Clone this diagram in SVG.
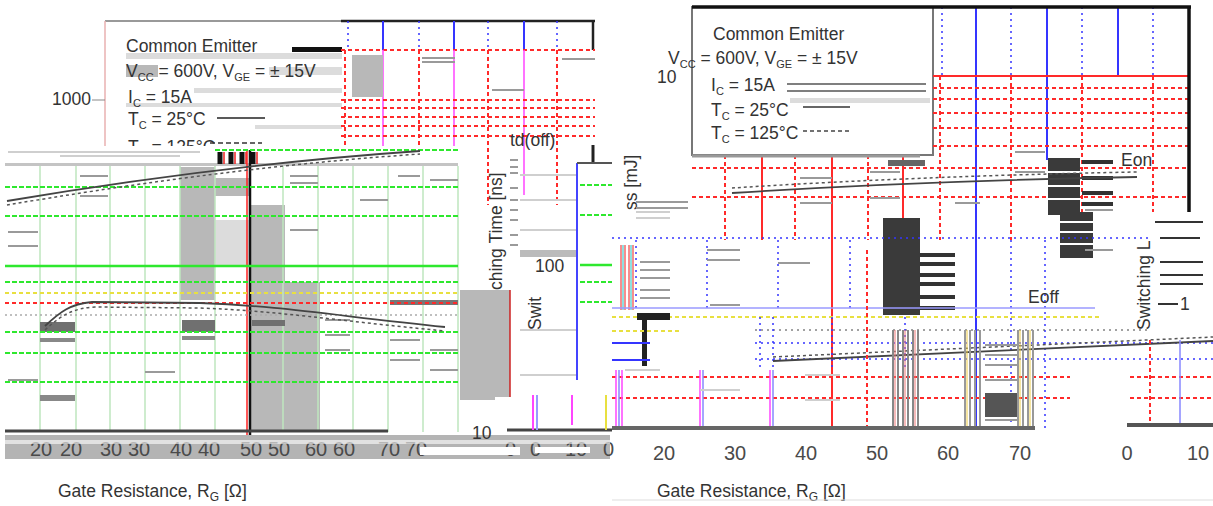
<svg xmlns="http://www.w3.org/2000/svg" width="1213" height="506" viewBox="0 0 1213 506">
<defs>
<style>
.t{font-family:"Liberation Sans",Arial,sans-serif;fill:#333;font-size:17.5px}
.ax{font-family:"Liberation Sans",Arial,sans-serif;fill:#4a4a4a;font-size:20px}
.rd{stroke:#ff2a2a;stroke-width:2;stroke-dasharray:4 3;fill:none}
.rs{stroke:#ff2a2a;stroke-width:2;fill:none}
.gd{stroke:#2ee82e;stroke-width:2;stroke-dasharray:5 2;fill:none}
.gs{stroke:#2ee82e;stroke-width:2.5;fill:none}
.bs{stroke:#3535ff;stroke-width:2;fill:none}
.bd{stroke:#3535ff;stroke-width:1.5;stroke-dasharray:2 4;fill:none}
.ms{stroke:#ff45ff;stroke-width:1.5;fill:none}
.vl{stroke:#bfe6bf;stroke-width:1.5;fill:none}
.gl{stroke:#9a9a9a;stroke-width:2;fill:none}
.lg{stroke:#cfcfcf;stroke-width:2;fill:none}
.yd{stroke:#e8e040;stroke-width:2;stroke-dasharray:4 3;fill:none}
.dk{fill:#3a3a3a}
.gr{fill:#b8b8b8}
.lgr{fill:#dcdcdc}
.crv{stroke:#444;stroke-width:1.8;fill:none}
.crd{stroke:#555;stroke-width:1.5;stroke-dasharray:3 3;fill:none}
</style>
</defs>
<rect width="1213" height="506" fill="#fff"/>

<g id="left-chart">
  <line x1="105" y1="21" x2="341" y2="21" stroke="#999" stroke-width="2"/>
  <line x1="105" y1="21" x2="105" y2="146" stroke="#e8b0b0" stroke-width="1.5"/>
  <line x1="341" y1="21" x2="595" y2="21" stroke="#222" stroke-width="2.5"/>
  <line x1="593" y1="21" x2="593" y2="50" stroke="#222" stroke-width="2.5"/>
  <rect class="lgr" x="126" y="53" width="216" height="6"/>
  <rect class="gr" x="126" y="65" width="32" height="12"/>
  <rect class="lgr" x="269" y="67" width="73" height="8"/>
  <rect class="lgr" x="194" y="88" width="148" height="5"/>
  <rect class="lgr" x="126" y="103" width="216" height="4"/>
  <rect class="lgr" x="255" y="125" width="87" height="4"/>
  <rect x="292" y="47" width="50" height="5" fill="#111"/>
  <path class="bs" d="M383 21V50M454 21V50M524 21V50"/>
  <path class="bd" d="M348 21V50M419 21V50M488 21V50M557 21V50"/>
  <path class="rd" d="M341 50H595" stroke-width="3"/>
  <path class="rd" d="M345 50V205M419 50V205M488 50V205M557 50V205"/>
  <path class="ms" d="M383 50V195M454 50V195M524 50V195"/>
  <path class="rd" d="M341 100H595M341 108H595M341 117H595M341 126H595M341 136H595"/>
  <rect class="gr" x="352" y="55" width="31" height="42"/>
  <path class="gl" d="M422 58H455M422 62H455M492 90H524M562 59H595"/>
  <text class="t" x="126" y="52">Common Emitter</text>
  <text class="t" x="126" y="77">V<tspan font-size="11" dy="4">CC</tspan><tspan dy="-4"> = 600V, V</tspan><tspan font-size="11" dy="4">GE</tspan><tspan dy="-4"> = ± 15V</tspan></text>
  <text class="t" x="52" y="105">1000</text>
  <line x1="92" y1="100" x2="105" y2="100" stroke="#888" stroke-width="1"/>
  <text class="t" x="128" y="103">I<tspan font-size="11" dy="4">C</tspan><tspan dy="-4"> = 15A</tspan></text>
  <text class="t" x="128" y="125">T<tspan font-size="11" dy="4">C</tspan><tspan dy="-4"> = 25°C</tspan></text>
  <line x1="217" y1="118" x2="265" y2="118" stroke="#222" stroke-width="1.5"/>
  <text class="t" x="128" y="153">T<tspan font-size="11" dy="4">C</tspan><tspan dy="-4"> = 125°C</tspan></text>
  <line x1="210" y1="143" x2="262" y2="143" stroke="#333" stroke-width="1.5" stroke-dasharray="5 3"/>

  <rect x="5" y="146" width="455" height="286" fill="#fff"/>
  <path class="lg" d="M8 152H200M60 156H180" stroke-width="1.5"/>
  <rect x="5" y="163" width="453" height="3" fill="#c4c4c4"/>
  <path d="M220 152V164M231 152V164M242 152V164M253 152V164" stroke="#111" stroke-width="5"/>
  <path d="M224 152V164M235 152V164M246 152V164M257 152V164" stroke="#e22" stroke-width="1.5"/>
  <rect class="gr" x="180" y="167" width="35" height="133"/>
  <rect class="lgr" x="215" y="220" width="35" height="45"/>
  <rect class="gr" x="250" y="205" width="35" height="225"/>
  <rect class="gr" x="285" y="282" width="35" height="148"/>
  <rect class="gr" x="460" y="290" width="35" height="110"/>
  <rect class="gr" x="215" y="178" width="35" height="18"/>
  <path class="vl" d="M40 166V432M76 166V432M110 166V432M145 166V432M180 166V432M215 166V432M283 166V432M318 166V432M353 166V432M388 166V432M423 166V432M458 166V432"/>
  <path d="M250 150V440" stroke="#111" stroke-width="2.5"/>
  <path d="M247 150V440" stroke="#f22" stroke-width="1.5"/>
  <path class="gl" d="M80 176H108M80 196H108M290 176H318M290 183H318M290 230H318M360 200H388M398 176H420M430 180H458M8 232H38M8 246H38"/>
  <rect x="40" y="322" width="35" height="10" fill="#707070"/>
  <rect x="40" y="338" width="35" height="4" fill="#888"/>
  <rect x="40" y="395" width="35" height="6" fill="#888"/>
  <rect x="182" y="320" width="33" height="12" fill="#707070"/>
  <rect x="182" y="336" width="33" height="4" fill="#888"/>
  <rect x="252" y="320" width="33" height="6" fill="#707070"/>
  <rect x="390" y="300" width="68" height="5" fill="#777"/>
  <path class="gl" d="M325 320H350M325 335H350M325 350H350M390 340H420M390 360H420M8 380H38M430 350H458M430 370H458M145 372H175"/>
  <path class="gd" d="M215 150H458M5 187H458M5 216H458M5 282H458M5 332H458M5 353H458M5 382H458"/>
  <path class="gs" d="M5 266H458"/>
  <path class="yd" d="M5 293H458" stroke="#b8b030"/>
  <path class="rd" d="M5 303H458" stroke-width="2"/>
  <path d="M5 315H458" stroke="#aaa" stroke-width="1.5" stroke-dasharray="2 3"/>
  <path class="crv" d="M7 201C120 182 260 162 420 151"/>
  <path class="crd" d="M7 205C120 186 260 165 420 154"/>
  <path class="crv" d="M45 326C60 312 70 304 92 302L200 303C280 306 330 315 445 327"/>
  <path class="crd" d="M45 330C62 314 75 308 95 307L200 308C280 311 330 320 445 331"/>
  <line x1="5" y1="431" x2="388" y2="431" stroke="#444" stroke-width="3"/>
  <rect x="5" y="435" width="605" height="24" fill="#b4b4b4"/>
  <g class="ax" font-size="19">
    <text x="30" y="456">20</text><text x="60" y="456">20</text>
    <text x="100" y="456">30</text><text x="128" y="456">30</text>
    <text x="170" y="456">40</text><text x="198" y="456">40</text>
    <text x="240" y="456">50</text><text x="268" y="456">50</text>
    <text x="305" y="456">60</text><text x="333" y="456">60</text>
    <text x="378" y="456">70</text><text x="405" y="456">70</text>
    <text x="505" y="456">0</text><text x="530" y="456">0</text>
    <text x="565" y="456">10</text><text x="603" y="456">0</text>
  </g>
  <rect x="5" y="440" width="605" height="4" fill="#fff" opacity="0.6"/>
  <rect x="420" y="447" width="100" height="8" fill="#fff"/>
  <rect x="535" y="447" width="55" height="6" fill="#fff"/>
  <text class="t" x="58" y="497" font-size="18.5">Gate Resistance, R<tspan font-size="12" dy="4">G</tspan><tspan dy="-4"> [Ω]</tspan></text>

  <text class="t" x="510" y="146" font-size="19">td(off)</text>
  <path d="M593 145V165" stroke="#222" stroke-width="3"/>
  <path class="gl" d="M510 160H518M510 167H518M510 173H518M510 188H518M510 200H518M510 210H518M510 220H518M510 235H518M510 245H518"/>
  <path class="lg" d="M520 175H577M520 200H577M520 230H577M520 256H577M520 330H577M520 375H577"/>
  <rect x="520" y="250" width="57" height="7" fill="#bbb"/>
  <text class="t" transform="translate(502 290) rotate(-90)" font-size="21">ching Time [ns]</text>
  <text class="t" transform="translate(541 330) rotate(-90)" font-size="21">Swit</text>
  <rect class="gr" x="495" y="290" width="15" height="107"/>
  <path d="M510 290V397" stroke="#c22" stroke-width="1.5"/>
  <text class="t" x="535" y="272" font-size="19">100</text>
  <rect x="577" y="163" width="35" height="217" fill="#fff"/>
  <path d="M577 163V380" stroke="#4444ff" stroke-width="2"/>
  <path d="M577 163H612" stroke="#555" stroke-width="2"/>
  <path class="gd" d="M580 185H612M580 215H612M580 282H612M580 302H612"/>
  <path class="gs" d="M580 265H612"/>
  <text class="t" x="472" y="439" font-size="19">10</text>
  <line x1="507" y1="430" x2="612" y2="430" stroke="#444" stroke-width="3"/>
  <path d="M533 395V430M572 395V425" stroke="#ff45ff" stroke-width="2"/>
  <path d="M537 395V430" stroke="#9999ff" stroke-width="2"/>
  <path d="M606 395V430" stroke="#e8e040" stroke-width="2"/>
</g>

<g id="right-chart">
  <rect x="692" y="7" width="241" height="148" fill="#fff" stroke="#777" stroke-width="2"/>
  <path class="bs" d="M976 7V428M1047 7V160M1118 7V76"/>
  <path class="bd" d="M942 7V76M1011 7V76M1082 7V76M1153 7V76"/>
  <path class="rs" d="M933 76H1189"/>
  <path class="rd" d="M933 88H1189M933 99H1189M933 113H1189M933 128H1189M933 146H1189"/>
  <path class="rd" d="M692 168H1189M692 197H1189"/>
  <path class="rd" d="M940 76V240M1011 76V240M1082 76V240M1153 76V240M725 155V240M795 155V240M868 155V240"/>
  <path class="rs" d="M762 155V240M832 155V427M903 155V240"/>
  <line x1="692" y1="7" x2="1191" y2="7" stroke="#111" stroke-width="3.5"/>
  <line x1="1189" y1="7" x2="1189" y2="222" stroke="#111" stroke-width="3.5"/>
  <line x1="692" y1="156" x2="920" y2="156" stroke="#999" stroke-width="3"/>
  <rect class="dk" x="1048" y="158" width="32" height="57"/>
  <path d="M1048 172H1080M1048 186H1080M1048 199H1080" stroke="#fff" stroke-width="2"/>
  <path d="M1082 162H1113M1082 178H1113M1082 193H1113M1082 204H1113" stroke="#333" stroke-width="4"/>
  <rect class="dk" x="1060" y="212" width="33" height="46"/>
  <path d="M1060 222H1093M1060 232H1093M1060 244H1093" stroke="#fff" stroke-width="2"/>
  <rect x="888" y="160" width="37" height="6" fill="#666"/>
  <rect class="dk" x="883" y="218" width="37" height="97"/>
  <path d="M920 255H955M920 264H955M920 275H955M920 284H955M920 297H955M920 308H955" stroke="#333" stroke-width="4"/>
  <path class="gl" d="M800 178H832M800 203H832M870 172H900M870 198H900M955 203H980M1015 152H1045M1015 172H1045M1085 210H1113M1085 250H1113" stroke="#333"/>
  <rect x="1150" y="218" width="38" height="5" fill="#ff3a3a"/>
  <text class="t" x="713" y="40">Common Emitter</text>
  <text class="t" x="668" y="64">V<tspan font-size="11" dy="4">CC</tspan><tspan dy="-4"> = 600V, V</tspan><tspan font-size="11" dy="4">GE</tspan><tspan dy="-4"> = ± 15V</tspan></text>
  <text class="t" x="657" y="83">10</text>
  <text class="t" x="711" y="91">I<tspan font-size="11" dy="4">C</tspan><tspan dy="-4"> = 15A</tspan></text>
  <path d="M787 84H926M787 91H926" stroke="#555" stroke-width="1.5"/>
  <rect class="lgr" x="790" y="98" width="140" height="5"/>
  <text class="t" x="711" y="116">T<tspan font-size="11" dy="4">C</tspan><tspan dy="-4"> = 25°C</tspan></text>
  <line x1="803" y1="107" x2="850" y2="107" stroke="#333" stroke-width="1.5"/>
  <text class="t" x="711" y="139">T<tspan font-size="11" dy="4">C</tspan><tspan dy="-4"> = 125°C</tspan></text>
  <line x1="803" y1="131" x2="850" y2="131" stroke="#444" stroke-width="1.5" stroke-dasharray="4 3"/>
  <path class="crv" d="M732 193Q920 181 1137 177"/>
  <path class="crd" d="M732 188Q920 176 1137 172"/>
  <text class="t" x="1121" y="166" font-size="20">Eon</text>
  <text class="t" transform="translate(637 210) rotate(-90)" font-size="21">ss [mJ]</text>
  <path d="M621 245V310M625 245V310M629 245V310M633 245V310" stroke="#e44" stroke-width="1.2"/>
  <path d="M623 245V310M631 245V310" stroke="#4cc" stroke-width="1.2"/>
  <path class="gl" d="M636 202H688M636 208H688" stroke="#444"/>
  <path class="lg" d="M636 212H670M636 218H670"/>
  <path class="bd" d="M612 238H1200"/>
  <path class="bd" d="M636 240V310M707 240V310M778 240V310M850 240V310M1011 240V430M1045 240V430"/>
  <path class="gl" d="M640 262H670M640 270H670M640 278H670M640 290H670M640 298H670M707 250H740M707 260H740M778 263H810M710 305H740" stroke="#555"/>
  <path d="M612 308H1095" stroke="#9a9aff" stroke-width="1.5"/>
  <path class="yd" d="M612 317H1100"/>
  <rect x="637" y="313" width="33" height="7" fill="#222"/>
  <rect x="642" y="318" width="5" height="48" fill="#222"/>
  <path class="yd" d="M612 331H680"/>
  <path d="M612 343H650M612 360H650" stroke="#3535ff" stroke-width="2"/>
  <path class="bd" d="M755 343H1213M755 359H1213" stroke-width="2"/>
  <path d="M755 330H1213" stroke="#444" stroke-width="1" stroke-dasharray="2 4"/>
  <path class="bd" d="M760 317V370M773 317V370M832 317V370M905 317V370"/>
  <text class="t" x="1028" y="303" font-size="20">Eoff</text>
  <path class="crv" d="M773 361L1213 341"/>
  <path class="crd" d="M773 357L1213 337"/>
  <path class="rd" d="M612 377H1070M1130 377H1213M612 398H1070M1130 398H1213"/>
  <path class="ms" d="M616 370V427M622 370V427M700 370V427M770 370V427"/>
  <path d="M619 370V427M703 370V427M773 370V427M1180 340V427" stroke="#8888ff" stroke-width="1.5"/>
  <path class="rd" d="M867 250V427M1150 340V427"/>
  <path d="M893 330V428M898 330V428M903 330V428M908 330V428M913 330V428M918 330V428" stroke="#888" stroke-width="2"/>
  <path d="M895 330V428M905 330V428M915 330V428" stroke="#e77" stroke-width="1"/>
  <path d="M965 330V428M970 330V428M975 330V428M980 330V428M1018 330V430M1023 330V430M1028 330V430M1033 330V430" stroke="#999" stroke-width="2"/>
  <path d="M967 330V428M1020 330V430M1030 330V430" stroke="#ec4" stroke-width="1"/>
  <rect x="985" y="393" width="32" height="24" fill="#555"/>
  <path class="gl" d="M985 345H1017M985 355H1017M985 365H1017M985 380H1017M985 420H1017" stroke="#555"/>
  <path class="lg" d="M625 370H660M700 390H740M805 375H840M805 400H840"/>
  <line x1="612" y1="428" x2="1035" y2="428" stroke="#666" stroke-width="4"/>
  <line x1="1127" y1="425" x2="1213" y2="425" stroke="#555" stroke-width="4"/>
  <rect x="1148" y="212" width="65" height="120" fill="#fff"/>
  <path d="M1155 222H1203M1160 238H1200M1160 262H1203M1160 275H1203M1160 284H1203M1158 304H1178" stroke="#333" stroke-width="1.8"/>
  <text class="t" transform="translate(1150 330) rotate(-90)" font-size="21">Switching L</text>
  <text class="t" x="1180" y="310" font-size="19">1</text>
  <g class="ax">
    <text x="664" y="460" text-anchor="middle">20</text>
    <text x="735" y="460" text-anchor="middle">30</text>
    <text x="806" y="460" text-anchor="middle">40</text>
    <text x="877" y="460" text-anchor="middle">50</text>
    <text x="948" y="460" text-anchor="middle">60</text>
    <text x="1020" y="460" text-anchor="middle">70</text>
    <text x="1127" y="460" text-anchor="middle">0</text>
    <text x="1198" y="460" text-anchor="middle">10</text>
  </g>
  <text class="t" x="657" y="497" font-size="18.5">Gate Resistance, R<tspan font-size="12" dy="4">G</tspan><tspan dy="-4"> [Ω]</tspan></text>
  <line x1="612" y1="500" x2="1213" y2="500" stroke="#ddd" stroke-width="1"/>
</g>
</svg>
